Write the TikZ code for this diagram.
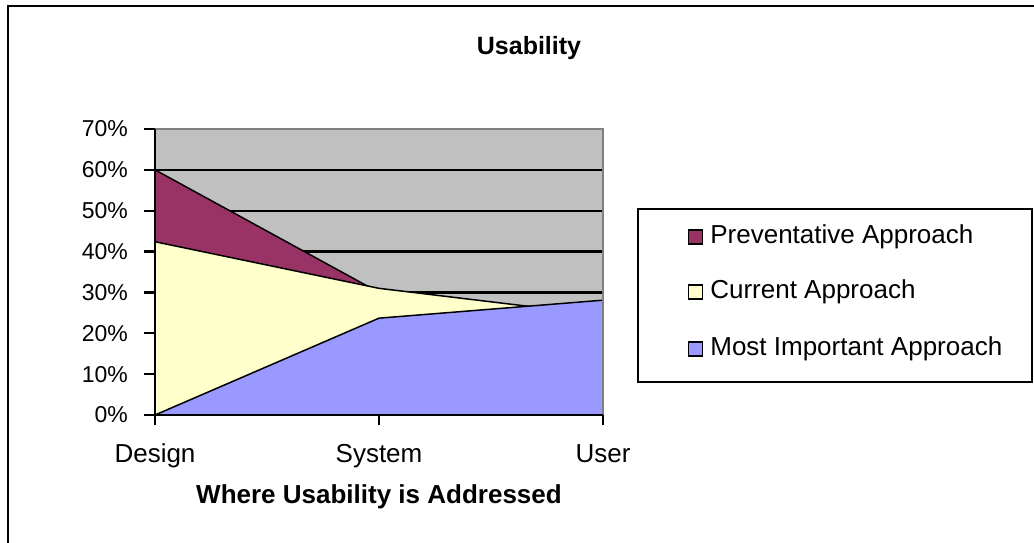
\documentclass[tikz,border=0pt]{standalone}
\usepackage{fontspec}
\setmainfont{Liberation Sans}
\definecolor{plotgray}{HTML}{C0C0C0}
\definecolor{prevcol}{HTML}{993366}
\definecolor{currcol}{HTML}{FFFFCC}
\definecolor{mostcol}{HTML}{9999FF}
\tikzset{
  lbl/.style={font=\fontsize{26}{30}\selectfont, inner sep=0pt},
  ticklbl/.style={font=\fontsize{23}{27}\selectfont, inner sep=0pt},
  area/.style={draw=black, line width=1.5pt, line join=round},
  keybox/.style={draw=black, line width=1.3pt, minimum size=14pt, inner sep=0pt}
}

\begin{document}
\begin{tikzpicture}[x=1pt,y=1pt]
\useasboundingbox (0,0) rectangle (1034,542);
\clip (0,0) rectangle (1034,542);
\fill[white] (0,0) rectangle (1034,542);
\draw[line width=2.2pt] (8,-10) -- (8,536) -- (1050,536);

\node[font=\bfseries\fontsize{25}{30}\selectfont, inner sep=0pt] (title) at (529,494) {Usability};

% plot area: categories 224pt apart, 1% = 4.086pt
\begin{scope}[shift={(155,127)}, x=224pt, y=4.086pt]
\fill[plotgray] (0,0) rectangle (2,70);
\foreach \v in {10,20,...,60}{
  \draw[line width=2.4pt] (0,\v) -- (2,\v);
}

\draw[area, fill=prevcol] (0,0) -- (0,60) -- (1,30) -- (2,20) -- (2,0) -- cycle;
\draw[area, fill=currcol] (0,0) -- (0,42.4) -- (1,31) -- (2,24.4) -- (2,0) -- cycle;
\draw[area, fill=mostcol] (0,0) -- (1,23.7) -- (2,28.1) -- (2,0) -- cycle;

\draw[gray, line width=2pt] (0,70) -- (2,70) -- (2,0);
\draw[line width=2.2pt] (0,70) -- (0,0) -- (2,0);

\foreach \v in {0,10,...,70}{
  \draw[line width=2.2pt] (0,\v) -- ++(-11pt,0);
  \node[ticklbl, anchor=east] (ytick\v) at ([xshift=-27pt]0,\v) {\v\%};
}
\foreach \x/\t [count=\i] in {0/Design,1/System,2/User}{
  \draw[line width=2.2pt] (\x,0) -- ++(0,-10pt);
  \node[lbl, anchor=base] (cat\i) at ([yshift=-47pt]\x,0) {\t};
}
\end{scope}

\node[font=\bfseries\fontsize{26}{30}\selectfont, inner sep=0pt] (xtitle) at (379,45) {Where Usability is Addressed};

% legend
\draw[line width=1.3pt] (638,160) rectangle (1032,333);
\foreach \y/\c/\t [count=\i] in {305/prevcol/Preventative Approach, 250/currcol/Current Approach, 193/mostcol/Most Important Approach}{
  \node[keybox, fill=\c] (key\i) at (695.5,\y) {};
  \node[lbl, anchor=west] (keytext\i) at ([xshift=7pt]key\i.east) {\t};
}
\end{tikzpicture}
\end{document}
